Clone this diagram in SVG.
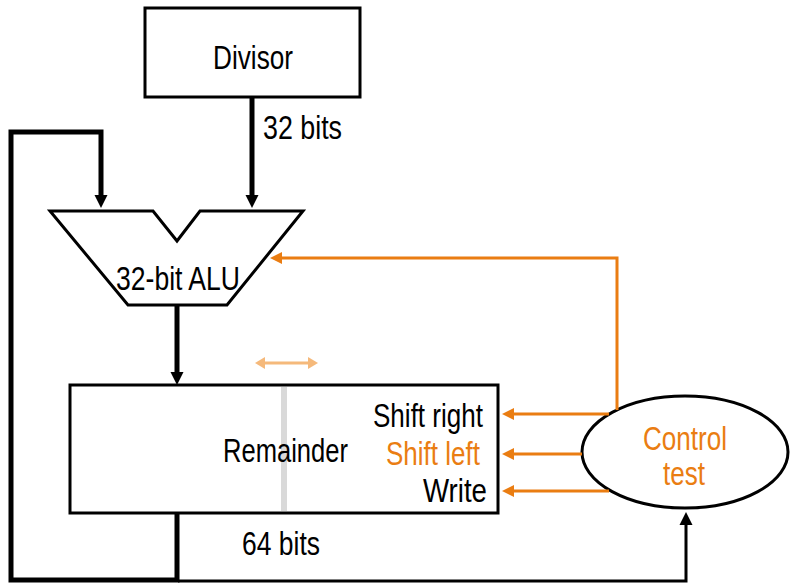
<svg xmlns="http://www.w3.org/2000/svg" width="790" height="585" viewBox="0 0 790 585">
<style>
.t{font-family:"Liberation Sans",Arial,sans-serif;font-size:33px;fill:#000}
.o{fill:#EA7D12}
.box{fill:#fff;stroke:#000;stroke-width:3}
.thick{fill:none;stroke:#000;stroke-width:5}
.thin{fill:none;stroke:#000;stroke-width:3}
.ctl{fill:none;stroke:#EA7D12;stroke-width:3}
</style>
<defs>
<marker id="ab" markerUnits="userSpaceOnUse" viewBox="0 -7 14 14" markerWidth="14" markerHeight="14" refX="0" refY="0" orient="auto"><path d="M0,-6.5 L13,0 L0,6.5 z" fill="#000"/></marker>
<marker id="ao" markerUnits="userSpaceOnUse" viewBox="0 -7 14 14" markerWidth="14" markerHeight="14" refX="0" refY="0" orient="auto"><path d="M0,-6 L12,0 L0,6 z" fill="#EA7D12"/></marker>
<marker id="al" markerUnits="userSpaceOnUse" viewBox="0 -7 14 14" markerWidth="14" markerHeight="14" refX="0" refY="0" orient="auto-start-reverse"><path d="M0,-6 L10,0 L0,6 z" fill="#F5B97B"/></marker>
</defs>

<g id="divisor">
<rect class="box" x="145" y="8" width="215" height="89"/>
<text class="t" x="213" y="69" textLength="80" lengthAdjust="spacingAndGlyphs">Divisor</text>
</g>

<g id="alu">
<path class="box" d="M50,211 L153,211 L177,241 L200,211 L303,211 L227,305 L128,305 Z"/>
<text class="t" x="116" y="290" textLength="124" lengthAdjust="spacingAndGlyphs">32-bit ALU</text>
</g>

<g id="remainder">
<rect class="box" x="70" y="385" width="428" height="128"/>
<line x1="284" y1="387" x2="284" y2="511" stroke="#D9D9D9" stroke-width="6"/>
<text class="t" x="223" y="462" textLength="125" lengthAdjust="spacingAndGlyphs">Remainder</text>
<text class="t" x="373" y="427" textLength="110" lengthAdjust="spacingAndGlyphs">Shift right</text>
<text class="t o" x="386" y="465" textLength="94" lengthAdjust="spacingAndGlyphs">Shift left</text>
<text class="t" x="423" y="502" textLength="64" lengthAdjust="spacingAndGlyphs">Write</text>
</g>

<g id="control">
<ellipse cx="685" cy="452" rx="103" ry="56" fill="#fff" stroke="#000" stroke-width="3"/>
<text class="t o" x="643" y="450" textLength="84" lengthAdjust="spacingAndGlyphs">Control</text>
<text class="t o" x="663" y="485" textLength="42" lengthAdjust="spacingAndGlyphs">test</text>
</g>

<g id="connectors">
<path class="thick" d="M252,97 V195" marker-end="url(#ab)"/>
<path class="thick" d="M177,513 V580 H11 V132 H101 V195" marker-end="url(#ab)"/>
<path class="thick" d="M177,305 V372" marker-end="url(#ab)"/>
<path class="thin" d="M178,581 H686 V525" marker-end="url(#ab)"/>
<path class="ctl" d="M617,410 V258 H282" marker-end="url(#ao)"/>
<path class="ctl" d="M609,414 H514" marker-end="url(#ao)"/>
<path class="ctl" d="M582,454 H514" marker-end="url(#ao)"/>
<path class="ctl" d="M609,491 H514" marker-end="url(#ao)"/>
<path d="M265,363 H308" fill="none" stroke="#F5B97B" stroke-width="3" marker-start="url(#al)" marker-end="url(#al)"/>
</g>

<g id="labels">
<text class="t" x="263" y="139" textLength="79" lengthAdjust="spacingAndGlyphs">32 bits</text>
<text class="t" x="242" y="555" textLength="78" lengthAdjust="spacingAndGlyphs">64 bits</text>
</g>
</svg>
